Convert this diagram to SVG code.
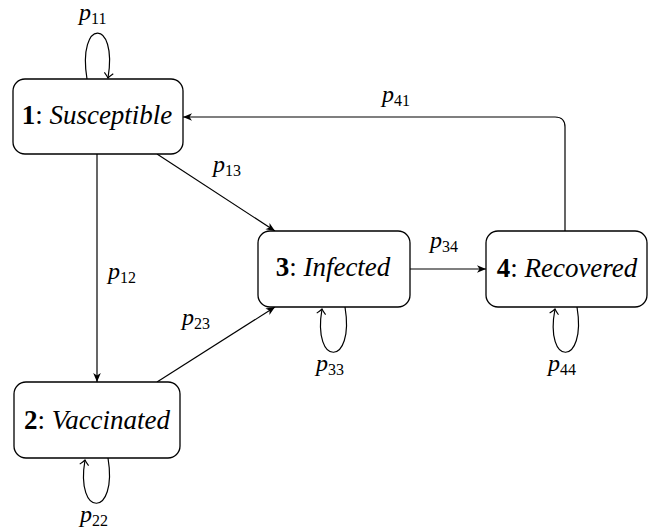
<svg xmlns="http://www.w3.org/2000/svg" width="651" height="532" viewBox="0 0 651 532">
<style>
.node rect{fill:#fff;stroke:#000;stroke-width:1.3}
.nt{font-family:'Liberation Serif',serif;font-size:27px;text-anchor:middle;fill:#000}
.lb{font-family:'Liberation Serif',serif;font-size:24px;font-style:italic;fill:#000}
.sub{font-size:16px;font-style:normal}
.edge{fill:none;stroke:#000;stroke-width:1.2}
</style>
<defs>
<marker id="ah" markerWidth="12" markerHeight="10" refX="0" refY="0" viewBox="-10 -5 12 10" orient="auto" markerUnits="userSpaceOnUse">
<path d="M0,0 L-9,-3.8 L-6.5,0 L-9,3.8 Z" fill="#000"/>
</marker>
<marker id="to" markerWidth="12" markerHeight="12" refX="0" refY="0" viewBox="-8 -6 10 12" orient="auto" markerUnits="userSpaceOnUse">
<path d="M-5,-4.5 Q-1.5,-1 0,0 Q-1.5,1 -5,4.5" fill="none" stroke="#000" stroke-width="1.1"/>
</marker>
</defs>
<g id="connectors">
<path class="edge" d="M97,154 V382" marker-end="url(#ah)"/>
<path class="edge" d="M157,154 L275,231" marker-end="url(#ah)"/>
<path class="edge" d="M157,382 L275,307" marker-end="url(#ah)"/>
<path class="edge" d="M410,269 H486" marker-end="url(#ah)"/>
<path class="edge" d="M565,231 V127 Q565,117 555,117 H183" marker-end="url(#ah)"/>
<path class="edge" d="M87,79 C77,18 118,18 108,78" marker-end="url(#to)"/>
<path class="edge" d="M108,458 C118,518 75,518 85,460" marker-end="url(#to)"/>
<path class="edge" d="M345,307 C355,367 312,367 322,309" marker-end="url(#to)"/>
<path class="edge" d="M577,307 C587,367 544,367 555,309" marker-end="url(#to)"/>
<text class="lb" x="79" y="20">p<tspan class="sub" dy="4">11</tspan></text>
<text class="lb" x="382" y="102">p<tspan class="sub" dy="4">41</tspan></text>
<text class="lb" x="213" y="172">p<tspan class="sub" dy="4">13</tspan></text>
<text class="lb" x="108" y="279">p<tspan class="sub" dy="4">12</tspan></text>
<text class="lb" x="430" y="248">p<tspan class="sub" dy="4">34</tspan></text>
<text class="lb" x="182" y="325">p<tspan class="sub" dy="4">23</tspan></text>
<text class="lb" x="316" y="371">p<tspan class="sub" dy="4">33</tspan></text>
<text class="lb" x="548" y="371">p<tspan class="sub" dy="4">44</tspan></text>
<text class="lb" x="80" y="522">p<tspan class="sub" dy="4">22</tspan></text>
</g>
<g id="node1" class="node">
<rect x="13" y="79" width="170" height="75" rx="12"/>
<text class="nt" x="97" y="124"><tspan font-weight="bold">1</tspan>: <tspan font-style="italic">Susceptible</tspan></text>
</g>
<g id="node2" class="node">
<rect x="14" y="382" width="166" height="76" rx="12"/>
<text class="nt" x="97" y="429"><tspan font-weight="bold">2</tspan>: <tspan font-style="italic">Vaccinated</tspan></text>
</g>
<g id="node3" class="node">
<rect x="258" y="231" width="152" height="76" rx="12"/>
<text class="nt" x="333" y="276"><tspan font-weight="bold">3</tspan>: <tspan font-style="italic">Infected</tspan></text>
</g>
<g id="node4" class="node">
<rect x="486" y="231" width="161" height="76" rx="12"/>
<text class="nt" x="567" y="277"><tspan font-weight="bold">4</tspan>: <tspan font-style="italic">Recovered</tspan></text>
</g>
</svg>
